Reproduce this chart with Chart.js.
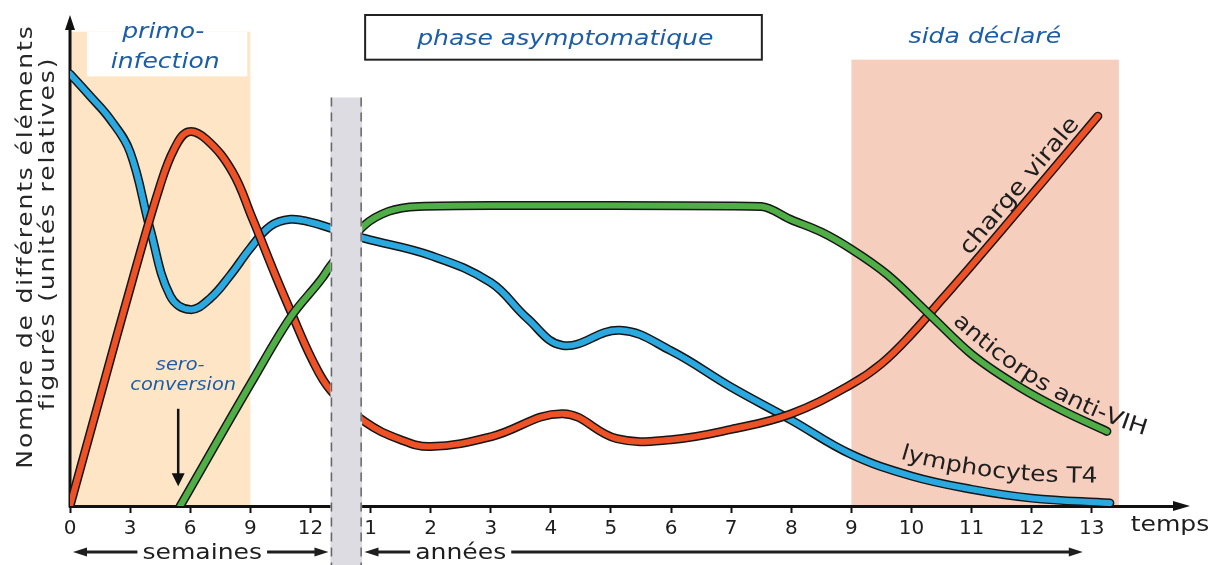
<!DOCTYPE html>
<html lang="fr">
<head>
<meta charset="utf-8">
<title>Évolution de l'infection par le VIH</title>
<script src="https://cdn.jsdelivr.net/npm/chart.js@4.4.1/dist/chart.umd.min.js"></script>
<style>
  html, body { margin: 0; padding: 0; background: #fff; }
  #chart { display: block; }
</style>
</head>
<body>
<canvas id="chart" width="1210" height="565"></canvas>
<script>
// Graduations de l'axe du temps
const semaineTicks = [0, 3, 6, 9, 12];
const anneeTicks = [1, 2, 3, 4, 5, 6, 7, 8, 9, 10, 11, 12, 13];

// lymphocytes T4 (unités relatives)
const t4SemX = [0, 1, 2, 3, 4, 5, 6, 7, 8, 9, 10, 11, 12, 13];
const t4SemY = [88, 83.5, 78.8, 72.1, 56.4, 42.8, 40, 42.3, 47, 52.5, 57, 58.4, 57.8, 56.6];
const t4AnX = [0.9, 2, 3, 3.6, 4.2, 5.15, 6, 7, 8, 9, 10, 11, 12, 13.3];
const t4AnY = [54.5, 51, 45.5, 38.3, 32.7, 35.8, 31.6, 24.2, 17.5, 10.5, 6.1, 3.4, 1.6, 0.6];

// charge virale
const cvSemX = [0, 1.5, 3.15, 4.5, 5.2, 5.9, 6.8, 8.1, 9.1, 10.3, 11, 12.1, 13];
const cvSemY = [0, 22.2, 46.5, 65.3, 72.7, 76.2, 74.7, 68.1, 58.6, 46.5, 39.8, 29.7, 23.6];
const cvAnX = [0.9, 1.5, 2, 3, 4.2, 5.1, 6, 7, 8, 9, 9.5, 10, 10.5, 11, 12, 13.1];
const cvAnY = [17.2, 13.5, 12.1, 14.1, 18.8, 13.7, 13.5, 15.6, 18.8, 24.8, 29, 35, 42, 49, 63.4, 79.4];

// anticorps anti-VIH
const acSemX = [5.5, 9, 11, 12.6, 13];
const acSemY = [0, 24.8, 38.4, 46.5, 48.9];
const acAnX = [0.9, 1.3, 1.8, 3, 5, 7, 7.5, 8, 8.5, 9, 9.6, 10.3, 11, 11.8, 12.5, 13.25];
const acAnY = [57.2, 60, 61, 61.2, 61.2, 61.1, 61, 58.3, 55.8, 52.3, 47.1, 39, 30.9, 24.2, 19.5, 15.2];

// Zones (semaines / années)
const primoZone = [0, 9];
const sidaZone = [9, 13.45];
const phaseZone = [0.91, 7.51];

const FONT = "'DejaVu Sans', sans-serif";
const SX = 1.14;
const BLUE_TEXT = "#1c5ea6";
const INK = "#1e1e1e";

// 1 unité de l'axe = 1 année = 3 semaines
function semToX(w) {
  return w / 3;
}

function anToX(a) {
  return a + 4;
}

function buildPoints(semX, semY, anX, anY) {
  const pts = semX.map((w, i) => ({ x: semToX(w), y: semY[i] }));
  return pts.concat(anX.map((a, i) => ({ x: anToX(a), y: anY[i] })));
}

function curveDatasets(points, color, order, monotone) {
  const common = {
    pointRadius: 0,
    tension: 0.4,
    borderCapStyle: "round",
    borderJoinStyle: "round",
    fill: false,
  };
  if (monotone) common.cubicInterpolationMode = "monotone";
  return [
    Object.assign({}, common, {
      data: points.map((p) => ({ x: p.x, y: p.y })),
      borderColor: "#161616",
      borderWidth: 9,
      order: order + 1,
    }),
    Object.assign({}, common, {
      data: points.map((p) => ({ x: p.x, y: p.y })),
      borderColor: color,
      borderWidth: 6,
      order: order,
    }),
  ];
}

const tickPositions = semaineTicks.map(semToX).concat(anneeTicks.map(anToX));
const tickTexts = semaineTicks.concat(anneeTicks).map(String);

function drawText(ctx, text, x, y, font, color, opts) {
  opts = opts || {};
  ctx.save();
  ctx.translate(x, y);
  if (opts.angle) ctx.rotate(opts.angle);
  ctx.scale(SX, 1);
  ctx.font = font;
  if (opts.spacing) ctx.letterSpacing = opts.spacing;
  ctx.fillStyle = color;
  ctx.textAlign = opts.align || "center";
  ctx.textBaseline = opts.baseline || "alphabetic";
  ctx.fillText(text, 0, 0);
  ctx.restore();
}

// texte posé le long d'une courbe de Bézier quadratique
function drawTextAlong(ctx, text, p0, c, p2, font, color) {
  const samples = [];
  for (let i = 0; i <= 60; i++) {
    const t = i / 60;
    const a = (1 - t) * (1 - t);
    const b = 2 * t * (1 - t);
    const d = t * t;
    samples.push([a * p0[0] + b * c[0] + d * p2[0], a * p0[1] + b * c[1] + d * p2[1]]);
  }
  const lengths = [0];
  for (let i = 1; i < samples.length; i++) {
    lengths.push(lengths[i - 1] + Math.hypot(samples[i][0] - samples[i - 1][0], samples[i][1] - samples[i - 1][1]));
  }
  ctx.save();
  ctx.font = font;
  ctx.fillStyle = color;
  ctx.textAlign = "center";
  ctx.textBaseline = "alphabetic";
  let s = 0;
  for (const ch of text) {
    const w = ctx.measureText(ch).width * SX;
    const mid = s + w / 2;
    let k = lengths.findIndex((L) => L >= mid);
    if (k === -1) k = lengths.length - 1;
    if (k === 0) k = 1;
    const dx = samples[k][0] - samples[k - 1][0];
    const dy = samples[k][1] - samples[k - 1][1];
    const f = (mid - lengths[k - 1]) / (lengths[k] - lengths[k - 1]);
    ctx.save();
    ctx.translate(samples[k - 1][0] + f * dx, samples[k - 1][1] + f * dy);
    ctx.rotate(Math.atan2(dy, dx));
    ctx.scale(SX, 1);
    ctx.fillText(ch, 0, 0);
    ctx.restore();
    s += w;
  }
  ctx.restore();
}

function arrowHead(ctx, x, y, angle, len, half) {
  ctx.save();
  ctx.translate(x, y);
  ctx.rotate(angle);
  ctx.beginPath();
  ctx.moveTo(0, 0);
  ctx.lineTo(-len, -half);
  ctx.lineTo(-len, half);
  ctx.closePath();
  ctx.fill();
  ctx.restore();
}

function doubleArrow(ctx, x1, x2, y, label, labelX) {
  ctx.save();
  ctx.strokeStyle = INK;
  ctx.fillStyle = INK;
  ctx.lineWidth = 3;
  ctx.beginPath();
  ctx.moveTo(x1 + 6, y);
  ctx.lineTo(x2 - 6, y);
  ctx.stroke();
  arrowHead(ctx, x1, y, Math.PI, 14, 4.5);
  arrowHead(ctx, x2, y, 0, 14, 4.5);
  ctx.font = "22px " + FONT;
  const w = ctx.measureText(label).width * SX;
  ctx.fillStyle = "#fff";
  ctx.fillRect(labelX - w / 2 - 5, y - 10, w + 10, 20);
  ctx.restore();
  drawText(ctx, label, labelX, y + 7, "22px " + FONT, INK);
}

const decorPlugin = {
  id: "decor",
  beforeDraw(chart) {
    const ctx = chart.ctx;
    const x = (u) => chart.scales.x.getPixelForValue(u);
    const y = (v) => chart.scales.y.getPixelForValue(v);
    const bottom = chart.chartArea.bottom;
    ctx.save();
    // primo-infection
    ctx.fillStyle = "#fde5c6";
    ctx.fillRect(x(semToX(primoZone[0])), y(96.6), x(semToX(primoZone[1])) - x(semToX(primoZone[0])), bottom - y(96.6));
    ctx.fillStyle = "#ffffff";
    ctx.fillRect(x(semToX(0.85)), y(96.6), x(semToX(8.85)) - x(semToX(0.85)), y(87.5) - y(96.6));
    // sida déclaré
    ctx.fillStyle = "#f5cebd";
    ctx.fillRect(x(anToX(sidaZone[0])), y(90.9), x(anToX(sidaZone[1])) - x(anToX(sidaZone[0])), bottom - y(90.9));
    ctx.restore();
  },
  beforeDatasetsDraw(chart) {
    const ctx = chart.ctx;
    const area = chart.chartArea;
    ctx.save();
    ctx.strokeStyle = "#111";
    ctx.fillStyle = "#111";
    ctx.lineWidth = 3;
    ctx.beginPath();
    ctx.moveTo(area.left, area.bottom + 1.5);
    ctx.lineTo(area.left, area.top + 10);
    ctx.stroke();
    arrowHead(ctx, area.left, area.top, -Math.PI / 2, 15, 5);
    arrowHead(ctx, area.right + 8, area.bottom, 0, 17, 5);
    ctx.restore();
  },
  afterDatasetsDraw(chart) {
    const ctx = chart.ctx;
    const x = (u) => chart.scales.x.getPixelForValue(u);
    const y = (v) => chart.scales.y.getPixelForValue(v);
    // coupure semaines / années
    const x1 = x(semToX(13));
    const x2 = x(anToX(0.86));
    const top = y(83.2);
    ctx.save();
    ctx.fillStyle = "#dcdce2";
    ctx.fillRect(x1, top, x2 - x1, chart.height - top);
    ctx.strokeStyle = "#666";
    ctx.lineWidth = 1.5;
    ctx.setLineDash([9, 6]);
    [x1 + 1, x2 - 1].forEach((xx) => {
      ctx.beginPath();
      ctx.moveTo(xx, top);
      ctx.lineTo(xx, chart.height);
      ctx.stroke();
    });
    ctx.restore();
  },
  afterDraw(chart) {
    const ctx = chart.ctx;
    const area = chart.chartArea;
    const x = (u) => chart.scales.x.getPixelForValue(u);
    const y = (v) => chart.scales.y.getPixelForValue(v);
    const italic = "italic 22px " + FONT;

    // titre de l'axe vertical
    const midY = (area.top + area.bottom) / 2;
    const titleOpts = { angle: -Math.PI / 2, spacing: "1.6px" };
    drawText(ctx, "Nombre de différents éléments", area.left - 38, midY - 14, "22px " + FONT, "#262626", titleOpts);
    drawText(ctx, "figurés (unités relatives)", area.left - 16, midY - 27, "22px " + FONT, "#262626", titleOpts);

    // phases
    drawText(ctx, "primo-", x(semToX(4.65)), y(95.4), italic, BLUE_TEXT);
    drawText(ctx, "infection", x(semToX(4.75)), y(89.3), italic, BLUE_TEXT);

    ctx.save();
    ctx.fillStyle = "#fff";
    ctx.strokeStyle = "#222";
    ctx.lineWidth = 2;
    const bx1 = x(anToX(phaseZone[0]));
    const bx2 = x(anToX(phaseZone[1]));
    ctx.fillRect(bx1, y(100), bx2 - bx1, y(90.9) - y(100));
    ctx.strokeRect(bx1, y(100), bx2 - bx1, y(90.9) - y(100));
    ctx.restore();
    drawText(ctx, "phase asymptomatique", x(anToX(4.24)), y(93.9), italic, BLUE_TEXT);
    drawText(ctx, "sida déclaré", x(anToX(11.22)), y(94.3), italic, BLUE_TEXT);

    // séroconversion
    drawText(ctx, "sero-", x(semToX(5.5)), y(27.7), "italic 17px " + FONT, BLUE_TEXT);
    drawText(ctx, "conversion", x(semToX(5.65)), y(23.6), "italic 17px " + FONT, BLUE_TEXT);
    ctx.save();
    ctx.strokeStyle = "#111";
    ctx.fillStyle = "#111";
    ctx.lineWidth = 2.5;
    const ax = x(semToX(5.4));
    ctx.beginPath();
    ctx.moveTo(ax, y(19.8));
    ctx.lineTo(ax, y(6));
    ctx.stroke();
    arrowHead(ctx, ax, y(4), Math.PI / 2, 13, 6.5);
    ctx.restore();

    // noms des courbes
    const P = (u, v) => [x(u), y(v)];
    drawTextAlong(ctx, "charge virale", P(14.96, 50.9), P(15.89, 64.45), P(16.82, 78), "23px " + FONT, INK);
    drawTextAlong(ctx, "anticorps anti-VIH", P(14.68, 37.4), P(16.22, 19.8), P(18.09, 13.7), "22px " + FONT, INK);
    drawTextAlong(ctx, "lymphocytes T4", P(13.81, 9.7), P(15.22, 4.4), P(17.34, 4.8), "22px " + FONT, INK);

    // temps, semaines, années
    drawText(ctx, "temps", area.right - 12, area.bottom + 25, "22px " + FONT, INK);
    doubleArrow(ctx, x(semToX(0.15)), x(semToX(12.9)), area.bottom + 46, "semaines", x(semToX(6.6)));
    doubleArrow(ctx, x(anToX(0.9)), x(anToX(12.85)), area.bottom + 46, "années", x(anToX(2.5)));
  },
};

document.addEventListener("DOMContentLoaded", function () {
  const datasets = []
    .concat(curveDatasets(buildPoints(t4SemX, t4SemY, t4AnX, t4AnY), "#2aa9e0", 5, false))
    .concat(curveDatasets(buildPoints(cvSemX, cvSemY, cvAnX, cvAnY), "#ee5125", 3, false))
    .concat(curveDatasets(buildPoints(acSemX, acSemY, acAnX, acAnY), "#4fae45", 1, true));

  new Chart(document.getElementById("chart"), {
    type: "line",
    data: { datasets: datasets },
    options: {
      responsive: false,
      animation: false,
      layout: { padding: { left: 70, right: 28, top: 15, bottom: 20 } },
      plugins: {
        legend: { display: false },
        tooltip: { enabled: false },
      },
      scales: {
        x: {
          type: "linear",
          min: 0,
          max: 18.5,
          afterBuildTicks: (axis) => {
            axis.ticks = tickPositions.map((v) => ({ value: v }));
          },
          ticks: {
            autoSkip: false,
            maxRotation: 0,
            padding: 4,
            color: INK,
            font: { family: "DejaVu Sans", size: 20 },
            callback: (value, index) => tickTexts[index],
          },
          grid: {
            display: true,
            drawOnChartArea: false,
            drawTicks: true,
            tickLength: 7,
            tickWidth: 2,
            tickColor: "#111",
          },
          border: { display: true, width: 3, color: "#111" },
        },
        y: { display: false, min: 0, max: 100 },
      },
    },
    plugins: [decorPlugin],
  });
});
</script>
</body>
</html>
